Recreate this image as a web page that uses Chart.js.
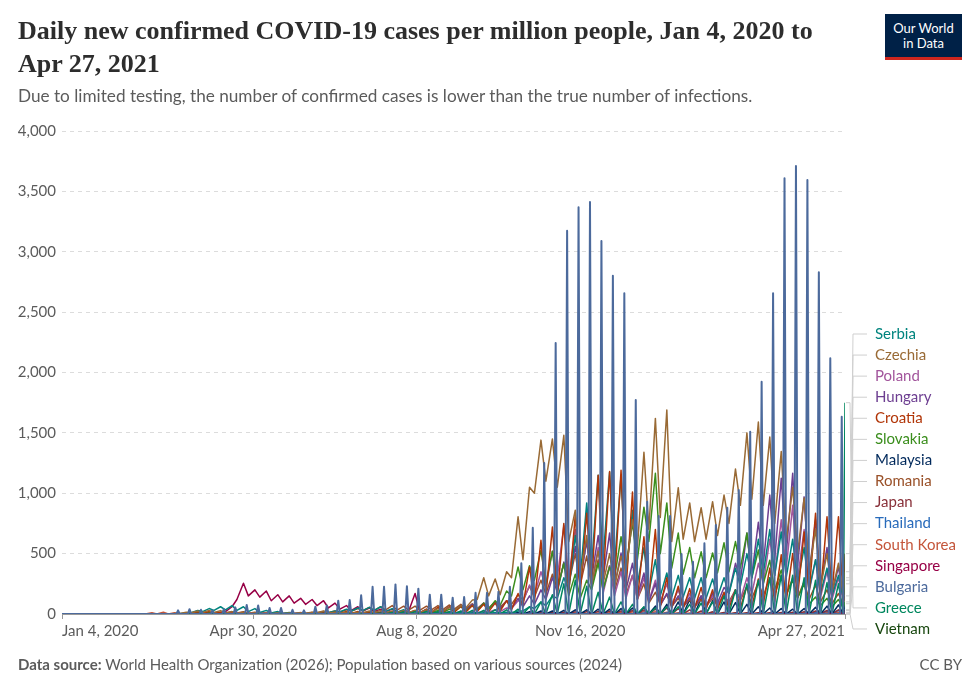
<!DOCTYPE html>
<html><head><meta charset="utf-8">
<script src="https://cdn.jsdelivr.net/npm/chart.js@4.4.1/dist/chart.umd.min.js"></script>
<style>
html,body{margin:0;padding:0;background:#fff;}
#wrap{position:relative;width:980px;height:692px;overflow:hidden;font-family:Lato,sans-serif;}
#c{position:absolute;left:0;top:0;}
.title{position:absolute;left:18px;top:14px;font-family:'Liberation Serif',serif;font-weight:bold;font-size:26px;line-height:33px;color:#2d2d2d;white-space:nowrap;}
.sub{position:absolute;left:18px;top:86px;font-size:17.2px;line-height:20px;color:#5b5b5b;white-space:nowrap;}
.logo{position:absolute;left:885px;top:14px;width:77px;height:43px;background:#002147;border-bottom:3px solid #ce261e;color:#fff;text-align:center;font-size:13px;line-height:15px;}
.logo div{padding-top:7px;}
.foot{position:absolute;left:18px;top:655px;font-size:15px;line-height:18px;color:#5b5b5b;white-space:nowrap;}
.cc{position:absolute;right:18px;top:655px;font-size:15px;line-height:18px;color:#5b5b5b;}
</style></head>
<body><div id="wrap">
<canvas id="c" width="980" height="692"></canvas>
<div class="title">Daily new confirmed COVID-19 cases per million people, Jan 4, 2020 to<br>Apr 27, 2021</div>
<div class="sub">Due to limited testing, the number of confirmed cases is lower than the true number of infections.</div>
<div class="logo"><div>Our World<br>in Data</div></div>
<div class="foot"><b>Data source:</b> World Health Organization (2026); Population based on various sources (2024)</div>
<div class="cc">CC BY</div>
</div>
<script>
// Days counted from Jan 4, 2020 (day 0) to Apr 27, 2021 (day 479).
// Weekly values: week k starts on day 1 + 7k.
const tickDays = [0, 117, 217, 317, 479];
const tickLabels = ["Jan 4, 2020", "Apr 30, 2020", "Aug 8, 2020", "Nov 16, 2020", "Apr 27, 2021"];
const yTicks = [0, 500, 1000, 1500, 2000, 2500, 3000, 3500, 4000];

const countries = ["Serbia","Czechia","Poland","Hungary","Croatia","Slovakia","Malaysia","Romania","Japan","Thailand","South Korea","Singapore","Bulgaria","Greece","Vietnam"];

// Bulgaria: weekly report (one reporting day per week, zero on the other days), from week 10
const bulgariaStart = 10;
const bulgariaWeekly = [30,40,35,30,40,55,75,70,50,50, 35,30,60,70,110,115,155,225,225,245, 230,210,160,160,135,140,175,175,185,225, 420,715,1250,2244,3174,3368,3412,3089,2802,2656, 1772,930,812,812,497,433,585,737,880,1027, 1510,1924,2656,3608,3710,3594,2830,2118,1634];

// Weekly high / low values for the daily series
const czechiaStart = 9;
const czechiaHigh = [5, 15,25,30,28,20,15,10,8,8,8, 10,12,25,15,15,15,25,30,25,28, 30,35,45,55,70,115,300,290,350,805, 1050,1440,1450,1480,860,650,520,500,480,780, 1340,1620,1690,1045,920,880,930,985,1200,1500, 1590,1465,1345,1050,960,700,500,420,350];
const czechiaLow = [1, 5,10,12,12,8,5,4,3,3,3, 4,5,10,8,6,6,10,12,10,12, 12,15,20,25,30,50,120,150,160,300, 450,1000,1100,1050,600,300,250,250,230,350, 550,700,800,600,620,600,620,650,750,900, 950,900,750,600,500,350,220,180,150];

const serbiaStart = 10;
const serbiaHigh = [10,30,45,60,70,60,45,30,20,12, 8,8,10,25,40,50,55,60,45,35, 25,20,15,12,10,10,10,12,15,25, 60,100,150,300,650,920,1150,1175,1150,860, 550,450,340,320,300,300,290,300,380,500, 620,700,680,620,550,450,380,320,280];
const serbiaLow = [3,10,20,30,35,30,20,12,8,5, 3,3,4,10,18,25,28,30,22,15, 10,8,6,5,4,4,4,5,6,10, 25,45,70,130,200,300,400,450,400,300, 250,180,150,140,140,130,130,140,170,230, 300,330,320,300,250,200,170,150,130];

const croatiaStart = 10;
const croatiaHigh = [5,15,20,15,8,5,3,2,2,2, 2,3,8,15,20,20,15,12,15,20, 30,40,55,60,65,70,80,90,110,170, 390,610,720,750,820,835,1150,1180,1190,1010, 640,700,300,230,210,220,200,180,200,230, 290,380,490,500,680,835,805,805,500];
const croatiaLow = [1,3,5,4,2,1,1,0,0,0, 0,1,2,4,5,5,4,3,4,5, 8,10,12,15,15,15,20,20,25,35, 70,100,150,150,170,170,250,250,250,200, 120,150,60,50,45,45,40,40,45,50, 60,80,100,100,140,170,160,160,100];

const slovakiaStart = 10;
const slovakiaHigh = [5,8,10,5,3,2,2,2,2,3, 3,3,5,5,8,10,10,12,15,15, 20,25,30,40,60,70,90,110,190,390, 400,530,520,420,330,280,420,390,640,750, 885,1165,920,670,550,515,505,590,600,670, 530,445,365,280,250,140,130,120,100];
const slovakiaLow = [1,2,3,1,1,0,0,0,0,1, 1,1,1,1,2,3,3,4,5,5, 6,8,10,12,20,25,30,40,70,150, 200,280,250,200,150,130,200,200,300,400, 450,600,500,380,330,300,300,340,350,380, 300,250,200,160,130,80,70,60,50];

const hungaryStart = 10;
const hungaryHigh = [2,5,5,5,5,3,3,2,1,1, 1,1,1,1,1,1,2,3,5,10, 25,40,50,60,70,80,90,100,110,130, 150,200,300,430,560,600,650,670,505,420, 340,250,170,150,140,150,170,220,420,670, 760,985,1125,1165,970,780,550,390,300];
const hungaryLow = [0,1,1,1,1,1,1,0,0,0, 0,0,0,0,0,0,1,1,2,3, 8,12,15,20,25,30,35,40,40,50, 60,80,120,180,250,280,300,300,230,200, 150,100,70,60,60,60,70,90,170,280, 320,400,450,480,400,330,230,160,120];

const polandStart = 10;
const polandHigh = [2,5,8,10,10,10,10,10,10,10, 12,8,8,8,10,12,15,18,20,20, 22,22,20,20,20,20,25,35,50,110, 240,350,520,730,700,620,550,400,350,320, 300,280,250,200,170,150,150,170,200,300, 420,620,780,900,700,450,350,300,250];
const polandLow = [1,2,3,4,4,4,4,4,4,4, 5,3,3,3,4,5,6,7,8,8, 9,9,8,8,8,8,10,14,20,45, 100,150,220,300,300,260,230,170,150,130, 120,110,100,80,70,60,60,70,80,120, 170,250,320,370,290,180,140,120,100];

const romaniaStart = 10;
const romaniaHigh = [2,5,10,15,18,18,15,12,10,8, 10,15,20,25,35,45,55,60,70,65, 65,65,70,75,80,85,90,100,110,160, 230,280,330,420,500,480,450,400,380,320, 250,180,160,130,120,120,130,150,200,230, 260,300,320,300,270,240,200,170,150];
const romaniaLow = [1,2,5,7,9,9,7,6,5,4, 5,7,10,12,17,22,27,30,35,32, 32,32,35,37,40,42,45,50,55,80, 115,140,165,210,250,240,225,200,190,160, 125,90,80,65,60,60,65,75,100,115, 130,150,160,150,135,120,100,85,75];

const singaporeStart = 13;
const singaporeHigh = [10,60,255,200,190,160,150,130,120,110, 90,70,60,50,40,40,30,170,30,15, 10,8,5,3,2,2,2,2,1,1, 1,1,1,1,1,1,1,1,1,1, 1,1,1,1,1,1,1,1,1,1, 1,1,1,1,1,1];
const singaporeLow = [2,20,120,150,140,110,100,90,80,70, 50,40,30,25,20,20,15,20,10,5, 4,3,2,1,1,1,1,1,0.5,0.5, 0.5,0.5,0.5,0.5,0.5,0.5,0.5,0.5,0.5,0.5, 0.5,0.5,0.5,0.5,0.5,0.5,0.5,0.5,0.5,0.5, 0.5,0.5,0.5,0.5,0.5,0.5];

// Smaller series: weekly highs, daily lows reported near zero
const malaysiaStart = 10;
const malaysiaHigh = [5,5,4,3,2,2,1,1,1,0.5, 0.5,0.5,0.3,0.3,0.3,0.3,0.3,0.3,0.3,0.3, 0.3,0.3,0.5,1,2,3,4,5,8,12, 20,25,25,30,35,35,40,40,45,50, 55,65,80,100,120,130,110,100,95,80, 60,50,45,40,45,55,65,75,85];
const japanStart = 10;
const japanHigh = [1,3,4,4,3,2,1,0.5,0.5,0.5, 0.5,1,2,4,6,8,10,10,8,6, 5,4,4,4,4,5,5,6,6,7, 8,10,12,15,18,20,22,24,26,30, 35,40,50,45,35,25,18,12,10,10, 10,10,12,15,20,25,30,35,35];
const thailandStart = 10;
const thailandHigh = [1,2,1.5,0.5,0.2,0.1,0.1,0.1,0.1,0.1, 0.1,0.1,0.1,0.1,0.1,0.1,0.1,0.1,0.1,0.1, 0.1,0.1,0.1,0.1,0.1,0.1,0.1,0.1,0.1,0.1, 0.1,0.1,0.1,0.1,0.1,0.1,0.1,0.1,0.1,2, 8,6,8,5,3,2,2,1,1,1, 1,1,1,2,5,15,25,30,30];
const southKoreaStart = 6;
const southKoreaHigh = [1,10,15,10, 3,2,1,1,0.5,0.5,0.5,0.5,0.5,1, 1,1,1,1,0.8,0.8,0.8,1,2,5, 6,4,2,2,2,2,2,2,2,2, 2,2,2,3,4,5,8,10,13,18, 20,18,14,10,9,8,8,10,9,9, 9,9,9,9,11,12,13,14,14];
const greeceStart = 10;
const greeceHigh = [3,5,5,3,2,1,1,1,0.5,0.5, 0.5,0.5,1,1,2,3,5,8,12,18, 20,20,18,20,25,30,30,35,35,40, 60,100,160,250,280,230,180,140,100,80, 60,50,60,60,80,90,100,150,200,250, 280,300,320,320,300,280,260,250,1750];
const vietnamStart = 10;
const vietnamHigh = [0.3,0.3,0.5,0.3,0.2,0.1,0.1,0.1,0.1,0.1, 0.1,0.1,0.1,0.1,0.1,0.1,0.1,0.2,0.3,0.3, 0.2,0.1,0.1,0.1,0.1,0.1,0.1,0.1,0.1,0.1, 0.1,0.1,0.1,0.1,0.1,0.1,0.1,0.1,0.1,0.1, 0.1,0.1,0.1,0.1,0.1,0.1,0.5,0.5,0.2,0.1, 0.1,0.1,0.1,0.1,0.1,0.1,0.1,0.1,0.1];

const colors = {
  "Serbia":"#00847E","Czechia":"#996A35","Poland":"#A2559C","Hungary":"#6D3E91","Croatia":"#B13507",
  "Slovakia":"#3B8E1D","Malaysia":"#00295B","Romania":"#9A5129","Japan":"#883039","Thailand":"#286BBB",
  "South Korea":"#C4553A","Singapore":"#970046","Bulgaria":"#4C6A9C","Greece":"#00875E","Vietnam":"#18470F"
};

const LAST_DAY = 479;
function weekDay(k){ return 1 + 7 * k; }
function sawPoints(start, high, low){
  const pts = [];
  high.forEach((h, i) => {
    const s = weekDay(start + i);
    pts.push({x: Math.min(s + 1, LAST_DAY - 1), y: low ? low[i] : 0});
    pts.push({x: Math.min(s + 5, LAST_DAY), y: h});
  });
  return pts;
}
function spikePoints(start, vals){
  const pts = [{x: 0, y: 0}];
  vals.forEach((v, i) => {
    const s = weekDay(start + i);
    pts.push({x: s - 1, y: 0}, {x: s, y: v}, {x: s + 1, y: 0});
  });
  return pts;
}

const seriesPoints = {
  "Bulgaria": spikePoints(bulgariaStart, bulgariaWeekly),
  "Greece": sawPoints(greeceStart, greeceHigh),
  "Czechia": sawPoints(czechiaStart, czechiaHigh, czechiaLow),
  "Serbia": sawPoints(serbiaStart, serbiaHigh, serbiaLow),
  "Croatia": sawPoints(croatiaStart, croatiaHigh, croatiaLow),
  "Slovakia": sawPoints(slovakiaStart, slovakiaHigh, slovakiaLow),
  "Hungary": sawPoints(hungaryStart, hungaryHigh, hungaryLow),
  "Poland": sawPoints(polandStart, polandHigh, polandLow),
  "Romania": sawPoints(romaniaStart, romaniaHigh, romaniaLow),
  "Singapore": sawPoints(singaporeStart, singaporeHigh, singaporeLow),
  "Malaysia": sawPoints(malaysiaStart, malaysiaHigh),
  "Japan": sawPoints(japanStart, japanHigh),
  "Thailand": sawPoints(thailandStart, thailandHigh),
  "South Korea": sawPoints(southKoreaStart, southKoreaHigh),
  "Vietnam": sawPoints(vietnamStart, vietnamHigh)
};
const drawOrder = ["Bulgaria","Greece","Czechia","Croatia","Serbia","Slovakia","Hungary","Poland","Romania","Singapore","Malaysia","Japan","Thailand","South Korea","Vietnam"];

const datasets = drawOrder.map((name, i) => ({
  label: name,
  data: seriesPoints[name],
  borderColor: colors[name],
  backgroundColor: colors[name],
  borderWidth: name === "Bulgaria" ? 2 : 1.5,
  pointRadius: 0,
  tension: 0,
  order: i,
  borderJoinStyle: 'round'
}));

const LABEL_TOP = 334, LABEL_STEP = 21.07;
const endLabels = {
  id: 'endLabels',
  afterDatasetsDraw(chart){
    const ctx = chart.ctx, area = chart.chartArea;
    ctx.save();
    countries.forEach((name, i) => {
      const idx = chart.data.datasets.findIndex(d => d.label === name);
      const meta = chart.getDatasetMeta(idx);
      const last = meta.data[meta.data.length - 1];
      const yEnd = Math.min(area.bottom, Math.max(area.top, last.y));
      const ly = LABEL_TOP + i * LABEL_STEP;
      ctx.strokeStyle = '#cfcfcf';
      ctx.lineWidth = 1;
      ctx.beginPath();
      ctx.moveTo(area.right + 1, yEnd);
      ctx.lineTo(area.right + 5, yEnd);
      ctx.lineTo(area.right + 8, ly);
      ctx.lineTo(area.right + 22, ly);
      ctx.stroke();
      ctx.fillStyle = colors[name];
      ctx.font = '15px Lato';
      ctx.textBaseline = 'middle';
      ctx.textAlign = 'left';
      ctx.fillText(name, area.right + 30, ly);
    });
    ctx.restore();
  }
};

new Chart(document.getElementById('c'), {
  type: 'line',
  data: { datasets },
  options: {
    responsive: false,
    animation: false,
    devicePixelRatio: 1,
    layout: { padding: { left: 0, top: 131, right: 135, bottom: 48 } },
    plugins: { legend: { display: false }, tooltip: { enabled: false } },
    scales: {
      x: {
        type: 'linear', min: 0, max: LAST_DAY,
        afterBuildTicks: s => { s.ticks = tickDays.map(v => ({ value: v })); },
        afterFit: s => { s.height = 30; },
        ticks: {
          autoSkip: false, maxRotation: 0, align: 'inner', padding: 3,
          color: '#5b5b5b', font: { family: 'Lato', size: 15 },
          callback: (v) => { const i = tickDays.indexOf(v); return i >= 0 ? tickLabels[i] : ''; }
        },
        grid: { display: true, drawOnChartArea: false, drawTicks: true, tickLength: 5, color: '#999' },
        border: { display: true, color: '#999' }
      },
      y: {
        min: 0, max: 4000,
        afterBuildTicks: s => { s.ticks = yTicks.map(v => ({ value: v })); },
        afterFit: s => { s.width = 62; },
        ticks: {
          padding: 6, color: '#5b5b5b', font: { family: 'Lato', size: 15 },
          callback: v => v.toLocaleString('en-US')
        },
        grid: { color: '#dcdcdc', drawTicks: false, lineWidth: 1 },
        border: { display: false, dash: [4, 4] }
      }
    }
  },
  plugins: [endLabels]
});
</script>
</body></html>
